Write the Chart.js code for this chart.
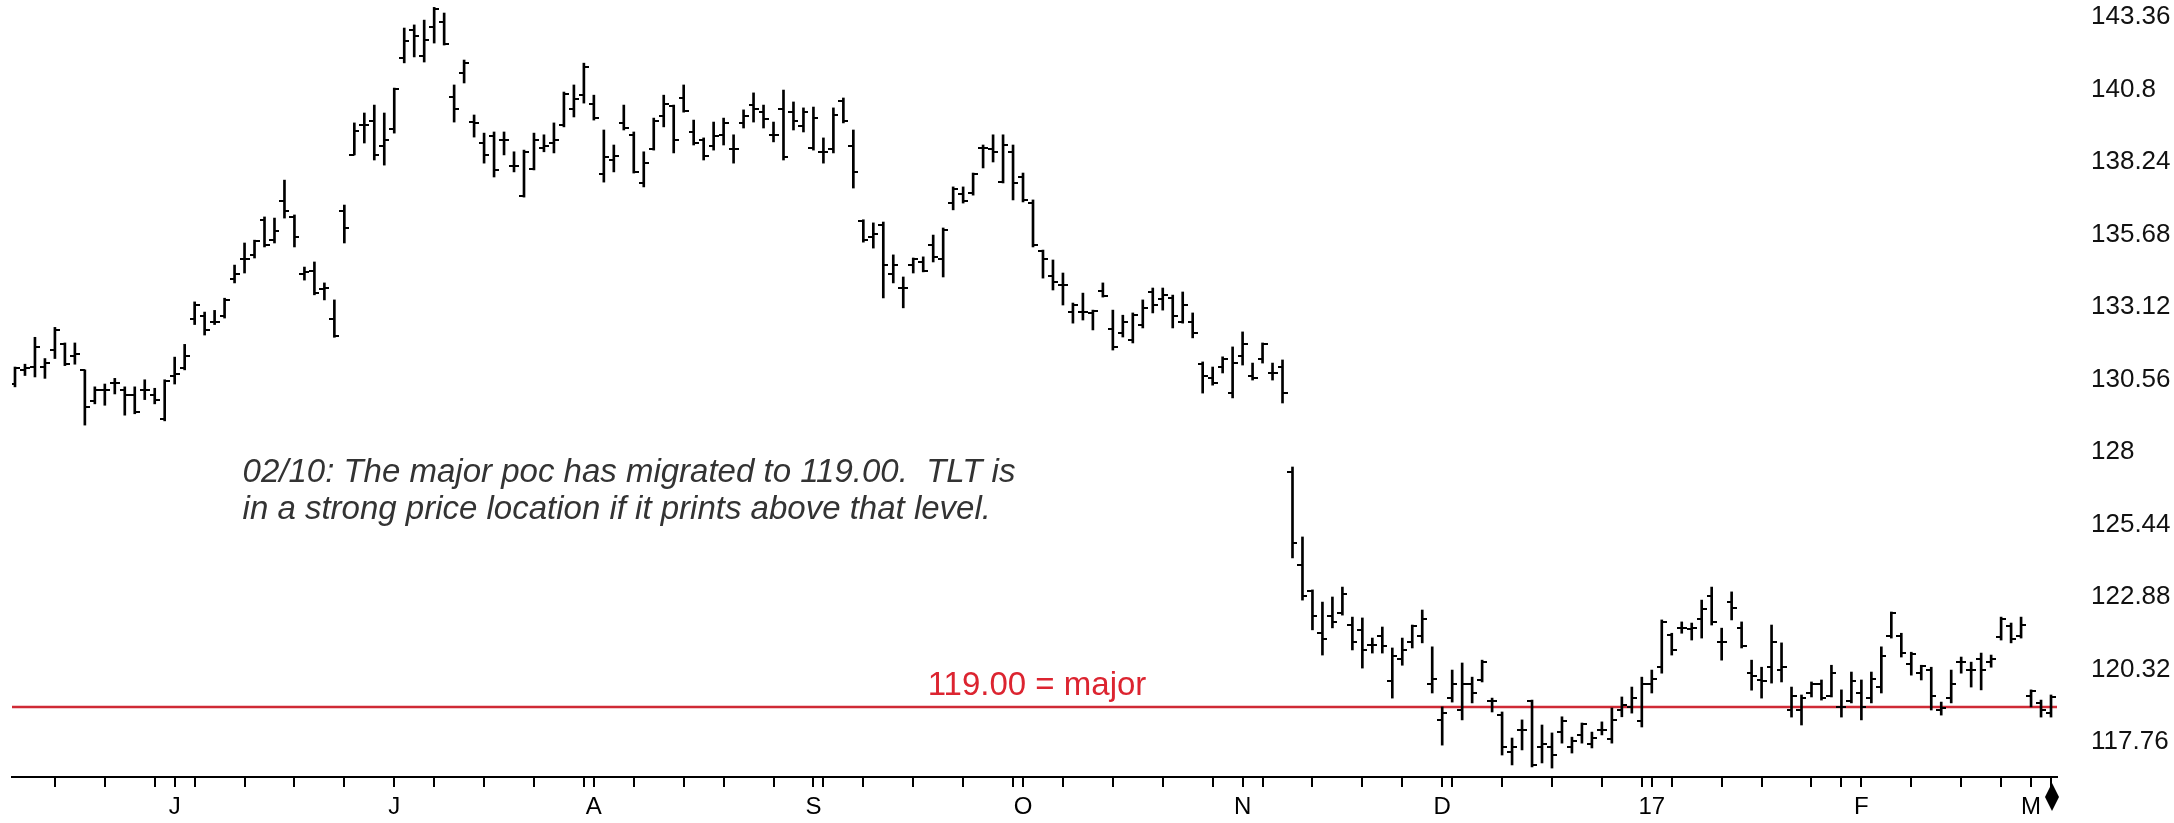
<!DOCTYPE html>
<html>
<head>
<meta charset="utf-8">
<title>TLT daily bars</title>
<script src="https://cdn.jsdelivr.net/npm/chart.js@4.4.1/dist/chart.umd.min.js"></script>
<style>
  html, body { margin: 0; padding: 0; background: #fff; }
  #wrap { width: 2174px; height: 823px; }
</style>
</head>
<body>
<div id="wrap"><canvas id="chart" width="2174" height="823"></canvas></div>
<script>
// daily OHLC, one entry per trading day (May 2016 - Mar 2017)
const opens = [
  130.4, 130.9, 131.0, 131.0, 131.6, 131.8, 131.4, 130.9, 129.8, 130.2,
  130.45, 130.2, 130.0, 130.2, 130.0, 129.15, 130.7, 130.95, 132.7, 132.8,
  132.6, 132.8, 134.1, 134.8, 134.95, 136.2, 135.5, 136.85, 136.3, 134.3,
  134.4, 133.75, 132.7, 136.5, 138.5, 139.55, 139.7, 138.8, 139.4, 141.9,
  142.9, 142.0, 143.0, 143.2, 140.55, 141.4, 139.65, 138.9, 139.15, 139.0,
  138.1, 137.05, 137.98, 138.75, 138.9, 139.55, 140.1, 140.6, 140.3, 137.8,
  138.3, 139.6, 139.2, 137.5, 138.7, 139.85, 140.2, 140.5, 139.3, 139.0,
  138.8, 139.2, 138.7, 139.6, 140.25, 140.0, 139.2, 140.1, 140.0, 139.5,
  138.75, 138.6, 138.7, 140.4, 138.8, 136.15, 135.6, 136.0, 134.3, 133.8,
  134.6, 134.7, 135.3, 134.8, 136.8, 137.1, 137.15, 138.75, 138.7, 137.55,
  138.6, 137.7, 136.8, 135.1, 134.2, 133.9, 132.95, 132.95, 132.9, 133.7,
  132.35, 132.2, 131.95, 132.5, 133.65, 133.4, 133.45, 132.6, 132.6, 131.1,
  130.6, 131.0, 130.1, 131.4, 130.7, 131.3, 130.8, 131.0, 127.3, 124.0,
  123.1, 121.6, 122.2, 122.3, 121.9, 121.7, 121.2, 121.5, 119.9, 120.7,
  121.3, 121.5, 119.8, 118.55, 119.3, 118.9, 119.8, 119.95, 119.2, 118.7,
  117.4, 118.2, 119.2, 117.6, 117.6, 118.1, 117.6, 118.0, 117.7, 118.2,
  117.85, 118.9, 119.0, 118.5, 119.8, 120.4, 121.55, 121.8, 121.75, 122.1,
  122.9, 121.3, 122.7, 121.8, 120.2, 119.95, 120.4, 120.3, 118.9, 118.9,
  119.5, 119.8, 119.4, 119.0, 119.2, 119.5, 119.3, 119.7, 121.5, 121.5,
  120.5, 120.2, 120.3, 118.9, 119.3, 120.6, 120.3, 120.7, 120.6, 121.45,
  121.85, 121.5, 119.4, 119.15, 118.8
];
const highs = [
  131.0, 131.1, 132.05, 131.3, 132.4, 131.85, 131.85, 130.9, 130.3, 130.4,
  130.6, 130.3, 130.3, 130.55, 130.25, 130.55, 131.35, 131.8, 133.3, 132.94,
  133.0, 133.43, 134.6, 135.38, 135.48, 136.3, 136.26, 137.6, 136.37, 134.53,
  134.71, 133.97, 133.37, 136.72, 139.62, 139.97, 140.25, 139.97, 140.85, 142.97,
  143.08, 143.25, 143.7, 143.5, 140.96, 141.84, 139.9, 139.26, 139.3, 139.3,
  138.6, 138.66, 139.26, 139.2, 139.62, 140.71, 140.96, 141.73, 140.6, 139.37,
  138.84, 140.25, 139.3, 138.6, 139.79, 140.6, 140.25, 140.96, 139.72, 139.09,
  139.65, 139.79, 139.2, 140.08, 140.68, 140.25, 139.65, 140.78, 140.36, 140.15,
  140.18, 139.09, 140.15, 140.5, 139.37, 136.2, 136.09, 136.12, 134.96, 134.18,
  134.85, 134.89, 135.66, 135.91, 137.36, 137.36, 137.85, 138.84, 139.2, 139.2,
  138.84, 137.85, 136.9, 135.13, 134.78, 134.32, 133.26, 133.61, 133.01, 133.97,
  133.01, 132.83, 132.91, 133.37, 133.79, 133.79, 133.54, 133.65, 132.91, 131.18,
  131.0, 131.36, 131.71, 132.24, 131.14, 131.85, 131.14, 131.25, 127.47, 125.0,
  123.13, 122.7, 122.88, 123.23, 122.17, 122.14, 121.43, 121.82, 121.08, 121.43,
  121.89, 122.42, 121.12, 119.0, 120.3, 120.55, 120.05, 120.65, 119.31, 118.82,
  117.9, 118.54, 119.24, 118.36, 118.08, 118.65, 117.93, 118.43, 118.11, 118.47,
  118.96, 119.35, 119.7, 120.05, 120.3, 122.07, 121.6, 122.0, 121.96, 122.77,
  123.23, 121.78, 123.06, 122.0, 120.65, 120.4, 121.89, 121.26, 119.7, 119.42,
  119.88, 119.95, 120.47, 119.6, 120.23, 119.95, 120.23, 121.12, 122.35, 121.6,
  120.93, 120.47, 120.4, 119.17, 120.3, 120.76, 120.58, 120.9, 120.83, 122.17,
  121.96, 122.17, 119.6, 119.24, 119.42
];
const lows = [
  130.3, 130.7, 130.65, 130.6, 131.3, 131.05, 131.1, 128.95, 129.7, 129.65,
  130.05, 129.3, 129.35, 129.85, 129.7, 129.1, 130.4, 130.9, 132.5, 132.13,
  132.5, 132.73, 133.97, 134.32, 134.85, 135.24, 135.38, 136.26, 135.24, 134.07,
  133.55, 133.37, 132.05, 135.38, 138.49, 138.91, 138.31, 138.13, 139.26, 141.74,
  141.95, 141.77, 142.44, 142.37, 139.65, 141.03, 139.12, 138.2, 137.71, 138.49,
  137.89, 137.0, 137.96, 138.6, 138.56, 139.48, 139.83, 140.32, 139.72, 137.53,
  137.89, 139.37, 137.85, 137.36, 138.66, 139.48, 138.56, 140.0, 138.84, 138.31,
  138.66, 138.84, 138.2, 139.44, 139.65, 139.44, 138.95, 138.31, 139.37, 139.3,
  138.66, 138.2, 138.56, 139.62, 137.32, 135.41, 135.2, 133.44, 133.97, 133.09,
  134.32, 134.36, 134.71, 134.18, 136.55, 136.79, 137.07, 138.03, 138.24, 137.5,
  136.9, 136.83, 135.24, 134.14, 133.72, 133.19, 132.55, 132.66, 132.31, 133.47,
  131.6, 132.06, 131.85, 132.38, 132.91, 133.01, 132.38, 132.55, 132.03, 130.08,
  130.36, 130.79, 129.91, 131.07, 130.54, 131.14, 130.54, 129.73, 124.26, 122.77,
  121.72, 120.83, 121.79, 122.24, 121.01, 120.37, 120.9, 120.9, 119.31, 120.47,
  121.08, 121.26, 119.49, 117.65, 119.17, 118.54, 119.14, 119.88, 118.82, 117.3,
  116.95, 117.48, 116.88, 117.02, 116.84, 117.72, 117.37, 117.72, 117.55, 118.01,
  117.72, 118.65, 118.78, 118.29, 119.49, 120.19, 120.83, 121.6, 121.36, 121.43,
  121.89, 120.65, 122.07, 121.08, 119.59, 119.31, 119.84, 119.88, 118.64, 118.36,
  119.35, 119.24, 119.35, 118.64, 119.14, 118.54, 119.14, 119.49, 121.43, 120.76,
  120.12, 119.95, 118.89, 118.71, 119.14, 120.19, 119.7, 119.6, 120.4, 121.36,
  121.26, 121.43, 119.0, 118.64, 118.64
];
const closes = [
  130.95, 130.95, 131.7, 131.15, 132.3, 131.1, 131.45, 129.6, 130.2, 130.2,
  130.45, 130.0, 129.4, 130.2, 129.85, 130.5, 130.75, 131.4, 133.2, 132.3,
  132.6, 133.35, 134.3, 134.8, 135.45, 135.3, 135.8, 136.5, 135.6, 134.35,
  133.6, 133.8, 132.1, 135.9, 139.35, 139.55, 138.5, 139.0, 140.8, 142.5,
  142.7, 142.55, 143.65, 142.4, 140.1, 141.75, 139.6, 138.5, 137.95, 139.0,
  138.1, 138.6, 139.0, 138.8, 139.0, 140.65, 140.45, 141.6, 139.8, 138.4,
  138.45, 139.45, 137.9, 138.2, 139.7, 140.3, 139.0, 140.05, 138.9, 138.45,
  139.15, 139.6, 138.7, 139.85, 140.1, 139.75, 139.2, 138.4, 139.7, 140.0,
  139.8, 138.6, 139.9, 139.7, 137.9, 135.5, 135.7, 134.6, 134.6, 133.8,
  134.8, 134.4, 134.9, 135.85, 137.3, 136.85, 137.8, 138.75, 138.6, 138.85,
  137.5, 136.9, 135.3, 134.8, 134.0, 133.9, 133.2, 132.95, 132.98, 133.5,
  131.7, 132.6, 132.85, 133.1, 133.2, 133.55, 132.8, 133.2, 132.2, 130.7,
  130.45, 131.3, 131.15, 131.8, 130.6, 131.8, 130.8, 130.1, 124.8, 122.9,
  122.2, 121.4, 122.0, 123.0, 121.3, 121.0, 121.2, 121.15, 120.8, 121.0,
  121.85, 122.1, 120.0, 118.8, 119.8, 119.8, 119.5, 120.6, 119.2, 117.6,
  117.6, 118.2, 116.95, 117.7, 117.3, 118.5, 117.8, 118.4, 117.9, 118.2,
  118.55, 119.05, 119.3, 119.8, 120.0, 122.0, 121.0, 121.8, 121.8, 122.45,
  122.0, 121.3, 122.5, 121.15, 120.1, 119.9, 121.3, 120.4, 119.4, 119.3,
  119.8, 119.3, 120.2, 119.0, 119.9, 119.0, 120.0, 120.8, 122.3, 120.9,
  120.85, 120.45, 119.4, 118.95, 119.8, 120.6, 120.3, 120.3, 120.7, 122.1,
  121.4, 121.9, 119.55, 118.9, 119.35
];

// axis ticks, in trading-day slots
const weekTicks = [4, 9, 14, 18, 23, 28, 33, 42, 47, 52, 57, 62, 67, 71, 76, 81, 85, 90, 95, 100,
  105, 110, 115, 120, 125, 130, 135, 139, 144, 149, 154, 159, 163, 166, 171, 175, 180, 183,
  190, 195, 199, 204];
const monthTicks = [16, 38, 58, 80, 101, 123, 143, 164, 185, 202];
const monthLabels = ['J', 'J', 'A', 'S', 'O', 'N', 'D', '17', 'F', 'M'];
const priceTicks = [143.36, 140.8, 138.24, 135.68, 133.12, 130.56, 128, 125.44, 122.88, 120.32, 117.76];

const pocLevel = 119.00;
const pocLabel = '119.00 = major';
const noteLines = [
  '02/10: The major poc has migrated to 119.00.  TLT is',
  'in a strong price location if it prints above that level.'
];

Chart.defaults.font.family = '"Liberation Sans", Arial, sans-serif';
Chart.defaults.color = '#000';

// little horizontal ticks for open (left) and close (right)
function tickImage(side) {
  const c = document.createElement('canvas');
  c.width = 10;
  c.height = 2;
  const g = c.getContext('2d');
  g.fillStyle = '#000';
  g.fillRect(side === 'left' ? 0 : 5, 0, 5, 2);
  return c;
}

const allTicks = [...new Set(weekTicks.concat(monthTicks))].sort((a, b) => a - b);
const nSlots = opens.length;

const annotations = {
  id: 'annotations',
  afterDraw(chart) {
    const { ctx, scales: { x, y } } = chart;
    ctx.save();
    // poc label above the red line
    ctx.fillStyle = '#dc2430';
    ctx.font = '33px "Liberation Sans", Arial, sans-serif';
    ctx.textAlign = 'center';
    ctx.textBaseline = 'middle';
    ctx.fillText(pocLabel, x.getPixelForValue(102.4), y.getPixelForValue(119.75));
    // comment
    ctx.fillStyle = '#333';
    ctx.font = 'italic 33px "Liberation Sans", Arial, sans-serif';
    ctx.textAlign = 'left';
    ctx.fillText(noteLines[0], x.getPixelForValue(22.8), y.getPixelForValue(127.26));
    ctx.fillText(noteLines[1], x.getPixelForValue(22.8), y.getPixelForValue(125.95));
    // end-of-data marker under the axis
    const mx = x.getPixelForValue(nSlots - 1) + 1;
    const my = x.top + 20;
    ctx.fillStyle = '#000';
    ctx.beginPath();
    ctx.moveTo(mx, my - 14);
    ctx.lineTo(mx + 7, my);
    ctx.lineTo(mx, my + 14);
    ctx.lineTo(mx - 7, my);
    ctx.closePath();
    ctx.fill();
    ctx.restore();
  }
};

new Chart(document.getElementById('chart'), {
  type: 'bar',
  data: {
    datasets: [
      {
        type: 'line',
        data: [{ x: -0.3, y: pocLevel }, { x: nSlots - 0.4, y: pocLevel }],
        borderColor: '#cf2a35',
        borderWidth: 2.5,
        pointRadius: 0,
        order: 5
      },
      {
        type: 'bar',
        data: lows.map((l, i) => ({ x: i, y: [l, highs[i]] })),
        backgroundColor: '#000',
        borderWidth: 0,
        barThickness: 2,
        order: 2
      },
      {
        type: 'line',
        data: opens.map((v, i) => ({ x: i, y: v })),
        showLine: false,
        pointStyle: tickImage('left'),
        pointRadius: 3,
        order: 1
      },
      {
        type: 'line',
        data: closes.map((v, i) => ({ x: i, y: v })),
        showLine: false,
        pointStyle: tickImage('right'),
        pointRadius: 3,
        order: 1
      }
    ]
  },
  options: {
    responsive: false,
    animation: false,
    events: [],
    layout: { autoPadding: false, padding: { left: 12, top: 0, right: 0, bottom: 0 } },
    plugins: { legend: { display: false }, tooltip: { enabled: false } },
    scales: {
      x: {
        type: 'linear',
        min: -0.3,
        max: nSlots - 0.4,
        offset: false,
        afterBuildTicks: s => { s.ticks = allTicks.map(v => ({ value: v })); },
        afterFit: s => { s.height = 46; s.paddingLeft = 0; s.paddingRight = 0; },
        grid: { display: true, offset: false, drawOnChartArea: false, drawTicks: true, tickLength: 10, color: '#000', lineWidth: 2 },
        border: { display: true, color: '#000', width: 2 },
        ticks: {
          autoSkip: false,
          maxRotation: 0,
          padding: 6,
          font: { size: 24 },
          callback: v => {
            const k = monthTicks.indexOf(v);
            return k >= 0 ? monthLabels[k] : '';
          }
        }
      },
      y: {
        type: 'linear',
        position: 'right',
        min: 116.524,
        max: 143.96,
        afterBuildTicks: s => { s.ticks = priceTicks.map(v => ({ value: v })); },
        afterFit: s => { s.width = 117; s.paddingTop = 0; s.paddingBottom = 0; },
        grid: { display: false, drawTicks: false },
        border: { display: false },
        ticks: {
          padding: 34,
          crossAlign: 'near',
          font: { size: 26 },
          color: '#111',
          callback: v => String(+v.toFixed(2))
        }
      }
    }
  },
  plugins: [annotations]
});
</script>
</body>
</html>
